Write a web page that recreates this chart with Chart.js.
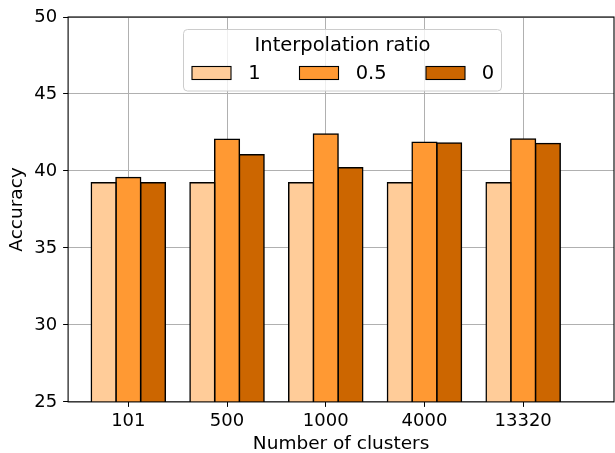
<!DOCTYPE html>
<html>
<head>
<meta charset="utf-8">
<script src="https://cdn.jsdelivr.net/npm/chart.js@4.4.0/dist/chart.umd.min.js"></script>
<style>
  html, body { margin: 0; padding: 0; background: #fff; }
</style>
</head>
<body>
<canvas id="chart" width="615" height="453"></canvas>
<script>
// data
const categories = ['101', '500', '1000', '4000', '13320'];
const seriesNames = ['1', '0.5', '0'];
const ratio1 = [39.23, 39.23, 39.23, 39.23, 39.23];
const ratio05 = [39.58, 42.06, 42.4, 41.86, 42.08];
const ratio0 = [39.23, 41.05, 40.21, 41.82, 41.78];
const yTicks = [25, 30, 35, 40, 45, 50];

const colors = ['#ffcc99', '#ff9933', '#cc6600'];
const font = 'DejaVu Sans';

function toPoints(arr) {
  return arr.map((v, i) => ({ x: i, y: v }));
}

function makeDataset(i, arr) {
  return {
    label: seriesNames[i],
    data: toPoints(arr),
    backgroundColor: colors[i],
    borderColor: '#000',
    borderWidth: 1.5,
    inflateAmount: 0.75, // edge centred on the bar outline, like matplotlib
    categoryPercentage: 0.75,
    barPercentage: 1.0
  };
}

// black frame around the axes (all 4 spines)
const frame = {
  id: 'frame',
  afterDatasetsDraw(chart) {
    const a = chart.chartArea;
    const ctx = chart.ctx;
    ctx.save();
    ctx.strokeStyle = '#000';
    ctx.lineWidth = 1.1;
    ctx.strokeRect(a.left, a.top, a.right - a.left, a.bottom - a.top);
    ctx.restore();
  }
};

// matplotlib style legend inside the axes
const boxLegend = {
  id: 'boxLegend',
  afterDraw(chart) {
    const ctx = chart.ctx;
    const x0 = 183.5, y0 = 29.5, w = 318, h = 61.5, r = 4;
    ctx.save();
    ctx.beginPath();
    ctx.roundRect(x0, y0, w, h, r);
    ctx.fillStyle = 'rgba(255,255,255,0.8)';
    ctx.fill();
    ctx.strokeStyle = '#cccccc';
    ctx.lineWidth = 1;
    ctx.stroke();

    ctx.fillStyle = '#000';
    ctx.font = '19.5px "' + font + '"';
    ctx.textAlign = 'center';
    ctx.textBaseline = 'alphabetic';
    ctx.fillText('Interpolation ratio', x0 + w / 2, 50.7);

    const patchX = [192, 299.5, 426];
    const labelX = [248.3, 355.7, 481.7];
    ctx.textAlign = 'left';
    chart.data.datasets.forEach((ds, i) => {
      ctx.fillStyle = ds.backgroundColor;
      ctx.fillRect(patchX[i], 66.5, 39, 13);
      ctx.strokeStyle = '#000';
      ctx.lineWidth = 1.1;
      ctx.strokeRect(patchX[i], 66.5, 39, 13);
      ctx.fillStyle = '#000';
      ctx.fillText(ds.label, labelX[i], 79.3);
    });
    ctx.restore();
  }
};

new Chart(document.getElementById('chart'), {
  type: 'bar',
  data: {
    datasets: [
      makeDataset(0, ratio1),
      makeDataset(1, ratio05),
      makeDataset(2, ratio0)
    ]
  },
  options: {
    responsive: false,
    animation: false,
    devicePixelRatio: 1,
    layout: { padding: { left: 6, right: 1, top: 17, bottom: 0 } },
    plugins: {
      legend: { display: false },
      tooltip: { enabled: false }
    },
    scales: {
      x: {
        type: 'linear',
        min: -0.61,
        max: 4.92,
        offset: false,
        afterBuildTicks(axis) {
          axis.ticks = categories.map((c, i) => ({ value: i }));
        },
        border: { display: false },
        grid: { offset: false, color: '#b0b0b0', lineWidth: 1, tickLength: 5, tickColor: '#000' },
        ticks: {
          color: '#000',
          font: { family: font, size: 18 },
          padding: 4,
          maxRotation: 0,
          autoSkip: false,
          callback: v => categories[v]
        },
        title: {
          display: true,
          text: 'Number of clusters',
          color: '#000',
          font: { family: font, size: 18.5, lineHeight: 1.0 },
          padding: { top: -2, bottom: 0 }
        }
      },
      y: {
        min: 25,
        max: 50,
        afterBuildTicks(axis) {
          axis.ticks = yTicks.map(v => ({ value: v }));
        },
        border: { display: false },
        grid: { color: '#b0b0b0', lineWidth: 1, tickLength: 5, tickColor: '#000' },
        ticks: {
          color: '#000',
          font: { family: font, size: 18 },
          padding: 6
        },
        title: {
          display: true,
          text: 'Accuracy',
          color: '#000',
          font: { family: font, size: 18.5 },
          padding: { top: 0, bottom: 0 }
        }
      }
    }
  },
  plugins: [frame, boxLegend]
});
</script>
</body>
</html>
